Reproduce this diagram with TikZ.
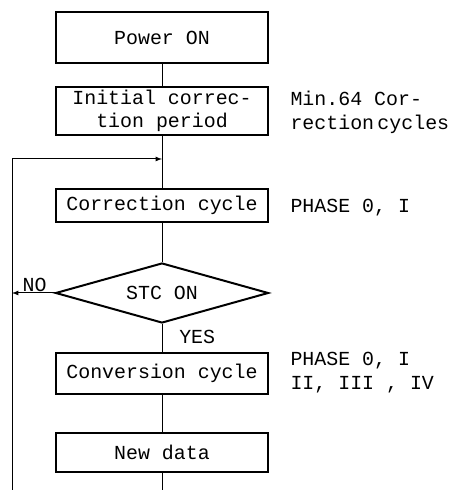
\documentclass[tikz,border=0pt]{standalone}
\usepackage{fontspec}
\setmainfont{Liberation Mono}
\usetikzlibrary{shapes.geometric}

\begin{document}
\begin{tikzpicture}[line width=0.85pt, >=latex,
    font=\fontsize{17}{20}\selectfont,
    step box/.style = {rectangle, draw, line width=1.7pt, minimum width=6.36cm, inner sep=0pt, align=center},
    test box/.style = {diamond, draw, line width=1.7pt, aspect=3.55, minimum width=6.39cm, minimum height=1.8cm, inner sep=0pt},
    remark/.style = {anchor=west, align=left, inner sep=0pt}]
  \useasboundingbox (0, 0) rectangle (13.5, 14.7);

  % Steps.
  \node at (4.86, 13.575) [step box, minimum height=1.53cm, name=PowerOn] {Power ON};
  \node at (4.86, 11.37) [step box, minimum height=1.44cm, name=InitialCorrection] {Initial correc-\\tion period};
  \node at (4.86, 8.535) [step box, minimum height=0.99cm, name=CorrectionCycle] {Correction cycle};
  \node at (4.86, 5.91) [test box, name=StcOn] {STC ON};
  \node at (4.86, 3.495) [step box, minimum height=1.23cm, name=ConversionCycle] {Conversion cycle};
  \node at (4.86, 1.125) [step box, minimum height=1.17cm, name=NewData] {New data};

  % Remarks.
  \node at (8.7, 11.325) [remark, name=MinCycles] {Min.64 Cor-\\rection\,cycles};
  \node at (8.7, 8.46) [remark, name=CorrectionPhases] {PHASE 0, I};
  \node at (8.7, 3.525) [remark, name=ConversionPhases] {PHASE 0, I\\II, III , IV};

  % Locations for the return loop.
  \coordinate (join) at (4.86, 9.93);
  \coordinate (loop) at (0.36, 5.91);
  \coordinate (loopBottom) at (0.36, 0);
  \coordinate (dataBottom) at (4.86, 0);

  % Main flow.
  \draw (PowerOn) to (InitialCorrection);
  \draw (InitialCorrection) to (join);
  \draw (join) to (CorrectionCycle);
  \draw (CorrectionCycle) to (StcOn);
  \draw (StcOn) to node [right, pos=0.45, xshift=11pt] {YES} (ConversionCycle);
  \draw (ConversionCycle) to (NewData);
  \draw (NewData) to (dataBottom);

  % Return loop.
  \draw [->] (StcOn.west)
             to node [above, pos=0.47, yshift=-3pt] {NO}
             (loop);
  \draw [->] (loopBottom) |- (join);
\end{tikzpicture}
\end{document}
